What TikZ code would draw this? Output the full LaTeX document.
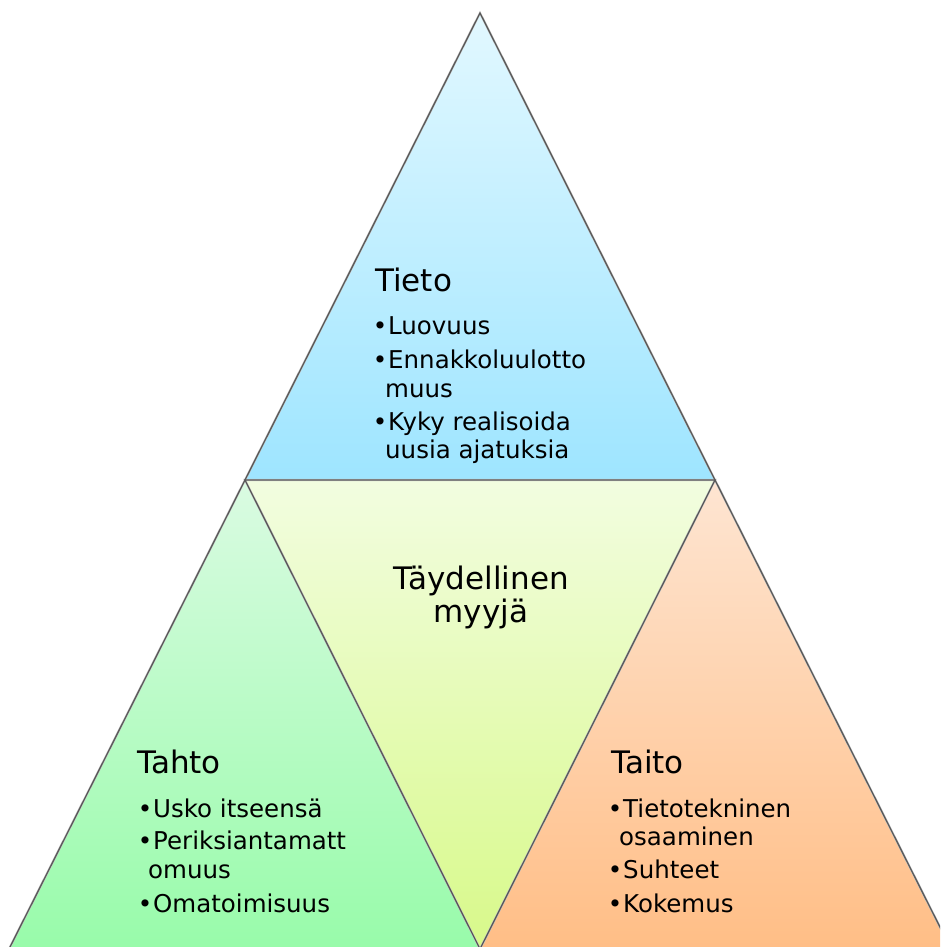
\documentclass[tikz,border=0pt]{standalone}
\usepackage{fontspec}
\setmainfont{DejaVu Sans}
\definecolor{tietoTop}{HTML}{E2F8FF}
\definecolor{tietoBot}{HTML}{9EE5FF}
\definecolor{midTop}{HTML}{F2FDE0}
\definecolor{midBot}{HTML}{D8F98A}
\definecolor{tahtoTop}{HTML}{DAFBE2}
\definecolor{tahtoBot}{HTML}{98FBAA}
\definecolor{taitoTop}{HTML}{FEE5D2}
\definecolor{taitoBot}{HTML}{FFBE86}
\definecolor{edge}{HTML}{5A5A5A}
\tikzset{
  heading/.style={font=\fontsize{31}{31}\selectfont, anchor=base west, inner sep=0pt, text=black},
  centertext/.style={font=\fontsize{31}{31}\selectfont, anchor=base, inner sep=0pt, text=black},
  itemtext/.style={font=\fontsize{24.5}{24.5}\selectfont, anchor=base west, inner sep=0pt, text=black},
  dot/.style={font=\fontsize{24.5}{24.5}\selectfont, anchor=base, inner sep=0pt, text=black},
  outline/.style={draw=edge, line width=1.3pt, line join=miter},
  outlineshadow/.style={draw=black!22, line width=2.2pt}
}
\begin{document}
\begin{tikzpicture}[x=1pt,y=-1pt]
\useasboundingbox (0,0) rectangle (940,947);
\clip (0,0) rectangle (940,947);
% corners of the large triangle and midpoints of its sides
\coordinate (A) at (480,13);
\coordinate (L) at (9,949);
\coordinate (R) at (951,949);
\coordinate (ML) at (245,480);
\coordinate (MR) at (715,480);
\coordinate (MB) at (480,949);

% the four coloured triangles
\shade[top color=tietoTop, bottom color=tietoBot] (A) -- (ML) -- (MR) -- cycle;
\shade[top color=midTop, bottom color=midBot] (ML) -- (MR) -- (MB) -- cycle;
\shade[top color=tahtoTop, bottom color=tahtoBot] (ML) -- (MB) -- (L) -- cycle;
\shade[top color=taitoTop, bottom color=taitoBot] (MR) -- (R) -- (MB) -- cycle;

% soft shadow under the edges, then the edges
\begin{scope}[shift={(1.5,1.5)}]
  \draw[outlineshadow] (A) -- (L) -- (R) -- cycle;
  \draw[outlineshadow] (ML) -- (MR) -- (MB) -- cycle;
\end{scope}
\draw[outline] (A) -- (L) -- (R) -- cycle;
\draw[outline] (ML) -- (MR) -- (MB) -- cycle;

% Tieto
\node[heading] (tieto) at (375,291) {Tieto};
\node[dot] (tb1) at (380,334) {•};
\node[itemtext] (t1) at (388,334) {Luovuus};
\node[dot] (tb2) at (380,368) {•};
\node[itemtext] (t2) at (388,368) {Ennakkoluulotto};
\node[itemtext] (t2b) at (385,397) {muus};
\node[dot] (tb3) at (380,430) {•};
\node[itemtext] (t3) at (388,430) {Kyky realisoida};
\node[itemtext] (t3b) at (385,458) {uusia ajatuksia};

% centre
\node[centertext] (c1) at (481,589) {Täydellinen};
\node[centertext] (c2) at (481,622) {myyjä};

% Tahto
\node[heading] (tahto) at (137,773) {Tahto};
\node[dot] (hb1) at (145,817) {•};
\node[itemtext] (h1) at (153,817) {Usko itseensä};
\node[dot] (hb2) at (145,849) {•};
\node[itemtext] (h2) at (153,849) {Periksiantamatt};
\node[itemtext] (h2b) at (148,878) {omuus};
\node[dot] (hb3) at (145,912) {•};
\node[itemtext] (h3) at (153,912) {Omatoimisuus};

% Taito
\node[heading] (taito) at (611,773) {Taito};
\node[dot] (ab1) at (615,817) {•};
\node[itemtext] (a1) at (623,817) {Tietotekninen};
\node[itemtext] (a1b) at (619,845) {osaaminen};
\node[dot] (ab2) at (615,878) {•};
\node[itemtext] (a2) at (623,878) {Suhteet};
\node[dot] (ab3) at (615,912) {•};
\node[itemtext] (a3) at (623,912) {Kokemus};
\end{tikzpicture}
\end{document}
